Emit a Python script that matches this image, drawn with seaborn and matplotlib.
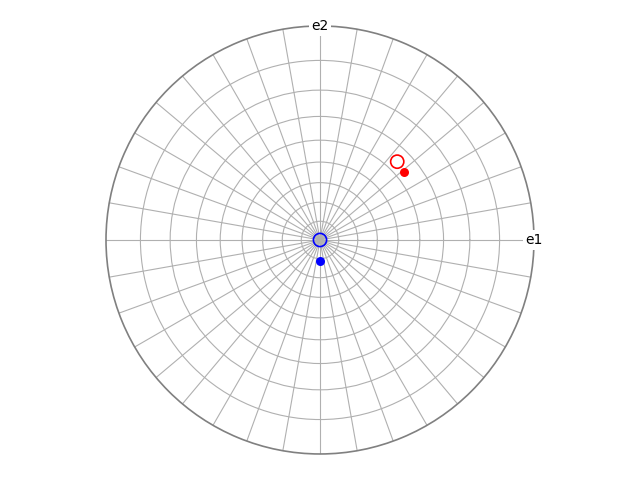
import numpy as np
import pandas as pd
import matplotlib
matplotlib.use('Agg')
from matplotlib import pyplot as plt
import seaborn as sns

# poles: polar angle from centre (deg) and azimuth (deg, from e1 towards e2)
open_tilt = [54.4, 0.0]
open_azim = [45.4, 0.0]
open_color = ['red', 'blue']

filled_tilt = [53.8, 11.0]
filled_azim = [39.0, 270.0]
filled_color = ['red', 'blue']

axis_labels = ['e1', 'e2']
axis_azim = [0, 90]

# stereographic projection for the radial scale
def fwd(t):
    return np.tan(np.radians(np.asarray(t)) / 2.0)

def inv(r):
    return np.degrees(2.0 * np.arctan(np.asarray(r)))

fig = plt.figure(figsize=(6.4, 4.8), dpi=100)
ax = fig.add_axes([0.165625, 0.0542, 0.66875, 0.8917], projection='polar')
ax.set_rscale('function', functions=(fwd, inv))
ax.set_rlim(0, 90)

df_open = pd.DataFrame({'az': np.radians(open_azim), 'tilt': open_tilt, 'c': open_color})
df_fill = pd.DataFrame({'az': np.radians(filled_azim), 'tilt': filled_tilt, 'c': filled_color})

for _, row in df_open.iterrows():
    sns.scatterplot(x=[row['az']], y=[row['tilt']], ax=ax, s=90, facecolor='none',
                    edgecolor=row['c'], linewidth=1.2, zorder=3)
for _, row in df_fill.iterrows():
    sns.scatterplot(x=[row['az']], y=[row['tilt']], ax=ax, s=42, color=row['c'],
                    edgecolor=row['c'], linewidth=0, zorder=4)

ax.set_rlim(0, 90)
ax.set_rgrids(np.arange(10, 90, 10), labels=[''] * 8)
ax.set_thetagrids(np.arange(0, 360, 10), labels=[''] * 36)
ax.grid(True, color='#b0b0b0', linewidth=0.8)
ax.spines['polar'].set_color('gray')
ax.spines['polar'].set_linewidth(1.2)
ax.set_xlabel('')
ax.set_ylabel('')

for lab, a in zip(axis_labels, axis_azim):
    ax.text(np.radians(a), 90, lab, ha='center', va='center', fontsize=10, zorder=5,
            bbox=dict(facecolor='white', edgecolor='none', pad=2))

plt.savefig('out.png', dpi=100)
